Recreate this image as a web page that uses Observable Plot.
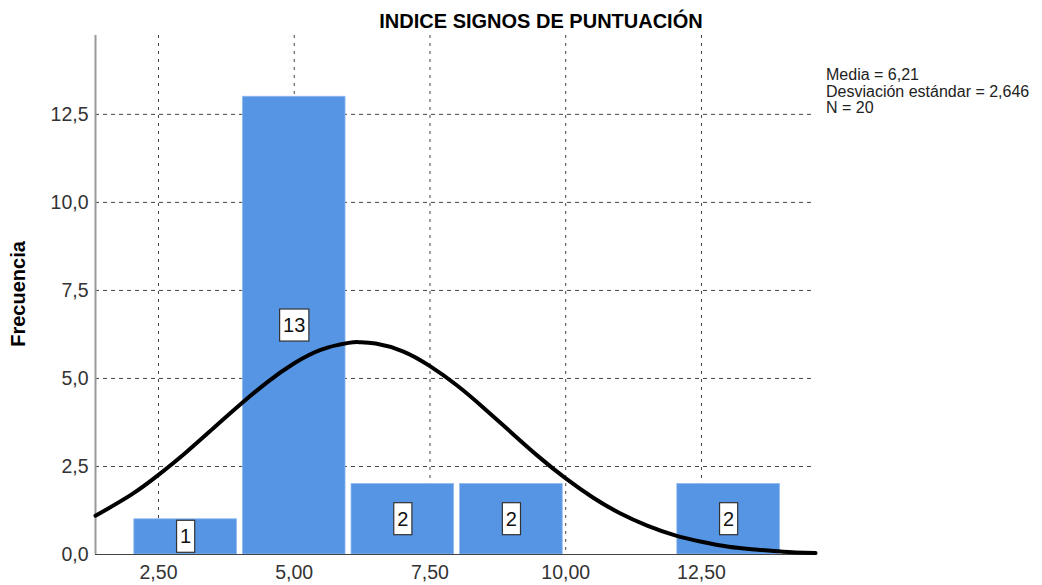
<!DOCTYPE html>
<html>
<head>
<meta charset="utf-8">
<script src="https://cdn.jsdelivr.net/npm/d3@7"></script>
<script src="https://cdn.jsdelivr.net/npm/@observablehq/plot@0.6"></script>
<style>
  body { margin: 0; background: #fff; }
  #chart { width: 1042px; height: 585px; }
</style>
</head>
<body>
<div id="chart"></div>
<script>
// ---- Data ----
const title = "INDICE SIGNOS DE PUNTUACIÓN";
const yLabel = "Frecuencia";
const statsLines = ["Media = 6,21", "Desviación estándar = 2,646", "N = 20"];

const binStart = [2, 4, 6, 8, 12];
const binEnd   = [4, 6, 8, 10, 14];
const counts   = [1, 13, 2, 2, 2];

const xTicks = [2.5, 5, 7.5, 10, 12.5];
const yTicks = [0, 2.5, 5, 7.5, 10, 12.5];

// Normal curve
const curveX = [1.34, 2, 2.5, 3, 3.5, 4, 4.5, 5, 5.5, 6, 6.21, 6.5, 7, 7.5, 8, 8.5, 9, 9.5, 10, 10.5, 11, 11.5, 12, 12.5, 13, 13.5, 14, 14.6];
const curveY = [1.10, 1.70, 2.26, 2.89, 3.57, 4.25, 4.89, 5.43, 5.82, 6.01, 6.03, 5.99, 5.77, 5.35, 4.80, 4.15, 3.46, 2.78, 2.16, 1.62, 1.17, 0.82, 0.55, 0.36, 0.22, 0.14, 0.08, 0.04];

// ---- Build tables ----
const bars = counts.map((c, i) => ({x1: binStart[i], x2: binEnd[i], count: c, mid: (binStart[i] + binEnd[i]) / 2}));
const curve = curveX.map((x, i) => ({x, y: curveY[i]}));

const fmtX = d => d.toFixed(2).replace(".", ",");
const fmtY = d => d.toFixed(1).replace(".", ",");
const FONT = "'Liberation Sans', Arial, sans-serif";

const plot = Plot.plot({
  width: 1042,
  height: 585,
  marginLeft: 95,
  marginRight: 227,
  marginTop: 35,
  marginBottom: 31,
  style: {fontFamily: FONT, background: "white", color: "#333"},
  x: {domain: [1.34, 14.6]},
  y: {domain: [0, 14.74]},
  marks: [
    Plot.gridX(xTicks, {stroke: "#444", strokeOpacity: 1, strokeWidth: 1, strokeDasharray: "3,5"}),
    Plot.gridY(yTicks.filter(d => d > 0), {stroke: "#444", strokeOpacity: 1, strokeWidth: 1, strokeDasharray: "4,4"}),
    Plot.rectY(bars, {x1: "x1", x2: "x2", y: "count", fill: "#5595e3", stroke: "#8fb8ee", strokeWidth: 0.8, insetLeft: 3, insetRight: 3}),
    Plot.ruleX([1.34], {stroke: "#999", strokeWidth: 2}),
    Plot.ruleY([0], {stroke: "#444", strokeWidth: 1.2}),
    Plot.line(curve, {x: "x", y: "y", stroke: "black", strokeWidth: 4, curve: "natural"}),
    Plot.text(bars, {x: "mid", y: d => d.count / 2, text: d => String(d.count), fontSize: 20, fill: "#111", fontFamily: FONT}),
    Plot.axisX({ticks: xTicks, tickSize: 0, tickPadding: 11, tickFormat: fmtX, label: null, fontSize: 19.5, fill: "#333"}),
    Plot.axisY({ticks: yTicks, tickSize: 0, tickPadding: 7, tickFormat: fmtY, label: null, fontSize: 19.5, fill: "#333"})
  ]
});

document.getElementById("chart").appendChild(plot);

// Boxes behind the value labels
const svg = d3.select(plot);
svg.selectAll('g[aria-label="text"] text').each(function() {
  const bb = this.getBBox();
  const cy = bb.y + bb.height / 2;
  const rect = document.createElementNS("http://www.w3.org/2000/svg", "rect");
  rect.setAttribute("x", bb.x - 3.5);
  rect.setAttribute("y", cy - 16);
  rect.setAttribute("width", bb.width + 7);
  rect.setAttribute("height", 32);
  rect.setAttribute("fill", "white");
  rect.setAttribute("stroke", "#333");
  rect.setAttribute("stroke-width", 1.2);
  const t = this.getAttribute("transform");
  if (t) rect.setAttribute("transform", t);
  this.parentNode.insertBefore(rect, this);
});

// Title
svg.append("text")
  .attr("x", 541).attr("y", 28)
  .attr("text-anchor", "middle")
  .style("font-family", FONT).style("font-weight", "bold").style("font-size", "20px")
  .attr("fill", "black")
  .text(title);

// Y label
svg.append("text")
  .attr("transform", "translate(25,294) rotate(-90)")
  .attr("text-anchor", "middle")
  .style("font-family", FONT).style("font-weight", "bold").style("font-size", "20px")
  .attr("fill", "black")
  .text(yLabel);

// Stats legend
svg.append("text")
  .attr("x", 826).attr("y", 80)
  .attr("text-anchor", "start")
  .style("font-family", FONT).style("font-size", "16px")
  .attr("fill", "#222")
  .selectAll("tspan").data(statsLines).join("tspan")
  .attr("x", 826).attr("dy", (d, i) => i === 0 ? 0 : 16.5)
  .text(d => d);
</script>
</body>
</html>
